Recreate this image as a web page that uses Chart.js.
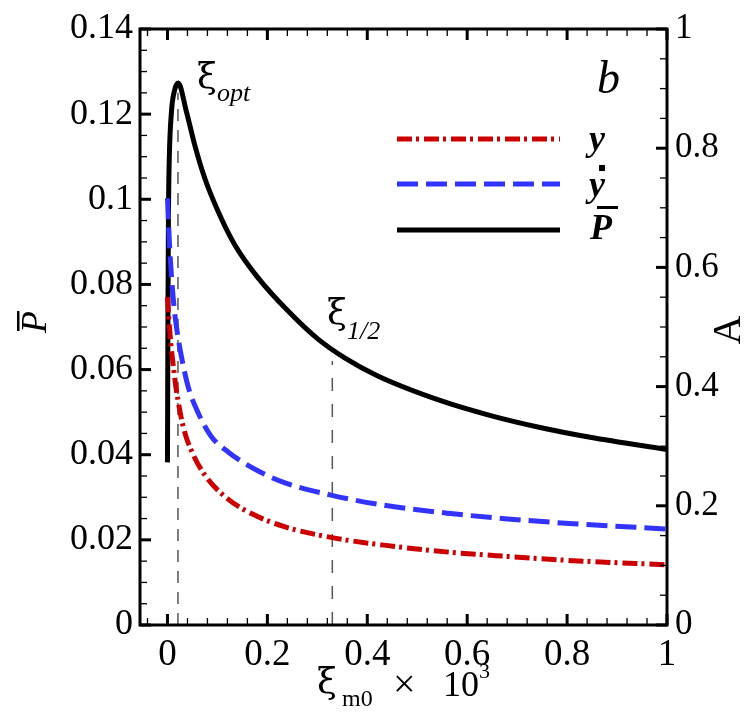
<!DOCTYPE html>
<html>
<head>
<meta charset="utf-8">
<script src="https://cdn.jsdelivr.net/npm/chart.js@4.4.0/dist/chart.umd.min.js"></script>
<style>
  html, body { margin: 0; padding: 0; background: #fff; }
  #wrap { width: 746px; height: 721px; }
</style>
</head>
<body>
<div id="wrap"><canvas id="chart"></canvas></div>
<script>
// tick values / labels
const xTicks = [0, 0.2, 0.4, 0.6, 0.8, 1];
const xTickLabels = ['0', '0.2', '0.4', '0.6', '0.8', '1'];
const pTicks = [0, 0.02, 0.04, 0.06, 0.08, 0.1, 0.12, 0.14];
const pTickLabels = ['0', '0.02', '0.04', '0.06', '0.08', '0.1', '0.12', '0.14'];
const aTicks = [0, 0.2, 0.4, 0.6, 0.8, 1];
const aTickLabels = ['0', '0.2', '0.4', '0.6', '0.8', '1'];

// P-bar (left axis)
const pBarX = [0, 0.001, 0.002, 0.0035, 0.008, 0.014, 0.0214, 0.0379, 0.0545, 0.0745, 0.1012, 0.1343, 0.181, 0.241, 0.3008, 0.3539, 0.421, 0.547, 0.647, 0.746, 0.846, 1.0];
const pBarY = [0.0382, 0.075, 0.097, 0.109, 0.1206, 0.1255, 0.1273, 0.1206, 0.1128, 0.105, 0.0972, 0.0894, 0.0816, 0.0738, 0.0672, 0.0628, 0.0585, 0.0527, 0.0492, 0.0464, 0.0441, 0.0412];

// y-dot (right axis)
const yDotX = [0, 0.004, 0.008, 0.013, 0.018, 0.028, 0.042, 0.062, 0.088, 0.122, 0.178, 0.234, 0.327, 0.433, 0.567, 0.681, 0.812, 1.0];
const yDotA = [0.716, 0.64, 0.585, 0.535, 0.5, 0.45, 0.398, 0.355, 0.316, 0.29, 0.26, 0.239, 0.218, 0.201, 0.187, 0.178, 0.17, 0.161];

// y (right axis)
const yX = [0, 0.003, 0.007, 0.012, 0.018, 0.032, 0.052, 0.078, 0.12, 0.168, 0.234, 0.327, 0.433, 0.567, 0.681, 0.812, 1.0];
const yA = [0.55, 0.51, 0.47, 0.432, 0.393, 0.331, 0.285, 0.248, 0.212, 0.187, 0.165, 0.147, 0.134, 0.122, 0.115, 0.108, 0.101];

// marker lines
const xiOpt = 0.021;
const xiOptTop = 0.125;
const xiHalf = 0.33;
const xiHalfTop = 0.062;

const RED = '#cc0000';
const BLUE = '#3333ff';
const SERIF = "'Liberation Serif', 'DejaVu Serif', serif";
const GREEK = "'DejaVu Serif', serif";

const toPoints = (xs, ys) => xs.map((x, i) => ({ x, y: ys[i] }));

// inward ticks, frame, annotations, legend
const decorPlugin = {
  id: 'decor',
  afterDraw(chart) {
    const { ctx, chartArea: a, scales } = chart;
    const sx = scales.x, sy = scales.y, sa = scales.y2;
    ctx.save();
    ctx.strokeStyle = '#000';

    const hTick = (px, len, w) => {
      ctx.lineWidth = w;
      ctx.beginPath();
      ctx.moveTo(px, a.bottom); ctx.lineTo(px, a.bottom - len);
      ctx.moveTo(px, a.top); ctx.lineTo(px, a.top + len);
      ctx.stroke();
    };
    for (let v = -0.04; v <= 1.0001; v += 0.04) {
      const major = Math.abs(v / 0.2 - Math.round(v / 0.2)) < 1e-6;
      hTick(sx.getPixelForValue(v), major ? 11 : 7, major ? 3 : 1.3);
    }
    for (let v = 0; v <= 0.14001; v += 0.005) {
      const major = Math.abs(v / 0.02 - Math.round(v / 0.02)) < 1e-6;
      const py = sy.getPixelForValue(v);
      ctx.lineWidth = major ? 3 : 1.3;
      ctx.beginPath();
      ctx.moveTo(a.left, py); ctx.lineTo(a.left + (major ? 11 : 7), py);
      ctx.stroke();
    }
    for (let v = 0; v <= 1.0001; v += 0.05) {
      const major = Math.abs(v / 0.2 - Math.round(v / 0.2)) < 1e-6;
      const py = sa.getPixelForValue(v);
      ctx.lineWidth = major ? 3 : 1.3;
      ctx.beginPath();
      ctx.moveTo(a.right, py); ctx.lineTo(a.right - (major ? 11 : 7), py);
      ctx.stroke();
    }

    // frame
    ctx.lineWidth = 3;
    ctx.strokeRect(a.left, a.top, a.right - a.left, a.bottom - a.top);

    ctx.fillStyle = '#000';
    ctx.textBaseline = 'alphabetic';
    ctx.textAlign = 'left';

    // xi_opt, xi_1/2
    ctx.font = `36px ${GREEK}`;
    ctx.fillText('ξ', 197, 88);
    ctx.font = `italic 26px ${SERIF}`;
    ctx.fillText('opt', 217, 101);
    ctx.font = `36px ${GREEK}`;
    ctx.fillText('ξ', 327, 324);
    ctx.font = `italic 26px ${SERIF}`;
    ctx.fillText('1/2', 347, 339);

    // panel letter
    ctx.font = `italic 46px ${SERIF}`;
    ctx.fillText('b', 597, 93);

    // legend
    const legend = [
      { color: RED, dash: [15, 4, 3, 5], y: 139 },
      { color: BLUE, dash: [21, 8], y: 184 },
      { color: '#000', dash: [], y: 230 },
    ];
    legend.forEach((l) => {
      ctx.strokeStyle = l.color;
      ctx.lineWidth = 5;
      ctx.setLineDash(l.dash);
      ctx.beginPath();
      ctx.moveTo(397, l.y); ctx.lineTo(560, l.y);
      ctx.stroke();
    });
    ctx.setLineDash([]);
    ctx.font = `italic bold 36px ${SERIF}`;
    ctx.fillText('y', 589, 150);
    ctx.fillText('y', 589, 196);
    ctx.fillRect(599, 165, 6, 6);
    ctx.fillText('P', 590, 239);
    ctx.fillRect(597, 206, 21, 3);

    // axis titles
    ctx.font = `36px ${GREEK}`;
    ctx.fillText('ξ', 317, 693);
    ctx.font = `24px ${SERIF}`;
    ctx.fillText('m0', 342, 706);
    ctx.font = `40px ${SERIF}`;
    ctx.fillText('×', 393, 697);
    ctx.font = `36px ${SERIF}`;
    ctx.fillText('10', 443, 696);
    ctx.font = `22px ${SERIF}`;
    ctx.fillText('3', 479, 678);

    ctx.save();
    ctx.translate(46, 322);
    ctx.rotate(-Math.PI / 2);
    ctx.textAlign = 'center';
    ctx.font = `italic 36px ${SERIF}`;
    ctx.fillText('P', 0, 0);
    ctx.fillRect(-9, -29, 20, 2.5);
    ctx.restore();

    ctx.save();
    ctx.translate(740, 330);
    ctx.rotate(-Math.PI / 2);
    ctx.textAlign = 'center';
    ctx.font = `40px ${SERIF}`;
    ctx.fillText('A', 0, 0);
    ctx.restore();

    ctx.restore();
  },
};

const ctx = document.getElementById('chart').getContext('2d');
const lineBase = { showLine: true, pointRadius: 0, borderWidth: 5, fill: false, cubicInterpolationMode: 'monotone' };

new Chart(ctx, {
  type: 'scatter',
  data: {
    datasets: [
      {
        ...lineBase,
        label: 'y',
        data: toPoints(yX, yA),
        yAxisID: 'y2',
        borderColor: RED,
        borderDash: [15, 4, 3, 5],
      },
      {
        ...lineBase,
        label: 'y-dot',
        data: toPoints(yDotX, yDotA),
        yAxisID: 'y2',
        borderColor: BLUE,
        borderDash: [21, 8],
      },
      {
        ...lineBase,
        label: 'P',
        data: toPoints(pBarX, pBarY),
        yAxisID: 'y',
        borderColor: '#000',
      },
      {
        label: 'xi_opt',
        data: [{ x: xiOpt, y: 0 }, { x: xiOpt, y: xiOptTop }],
        yAxisID: 'y',
        showLine: true,
        pointRadius: 0,
        borderWidth: 1.5,
        borderColor: '#555',
        borderDash: [12, 9],
      },
      {
        label: 'xi_half',
        data: [{ x: xiHalf, y: 0 }, { x: xiHalf, y: xiHalfTop }],
        yAxisID: 'y',
        showLine: true,
        pointRadius: 0,
        borderWidth: 1.5,
        borderColor: '#555',
        borderDash: [13, 13],
      },
    ],
  },
  options: {
    responsive: true,
    maintainAspectRatio: false,
    animation: false,
    layout: { padding: { top: 26, left: 0, right: 0, bottom: 0 } },
    plugins: { legend: { display: false }, tooltip: { enabled: false } },
    scales: {
      x: {
        type: 'linear',
        min: -0.055,
        max: 1,
        afterBuildTicks: (scale) => { scale.ticks = xTicks.map((value) => ({ value })); },
        afterFit: (scale) => { scale.height = 96; },
        ticks: {
          callback: (value, index) => xTickLabels[index],
          color: '#000',
          font: { family: SERIF, size: 37 },
          padding: 8,
          maxRotation: 0,
        },
        grid: { display: false, drawTicks: false },
        border: { display: false },
      },
      y: {
        type: 'linear',
        position: 'left',
        min: 0,
        max: 0.14,
        afterBuildTicks: (scale) => { scale.ticks = pTicks.map((value) => ({ value })); },
        afterFit: (scale) => { scale.width = 140; },
        ticks: {
          callback: (value, index) => pTickLabels[index],
          color: '#000',
          font: { family: SERIF, size: 36 },
          padding: 7,
        },
        grid: { display: false, drawTicks: false },
        border: { display: false },
      },
      y2: {
        type: 'linear',
        position: 'right',
        min: 0,
        max: 1,
        afterBuildTicks: (scale) => { scale.ticks = aTicks.map((value) => ({ value })); },
        afterFit: (scale) => { scale.width = 79; },
        ticks: {
          callback: (value, index) => aTickLabels[index],
          color: '#000',
          font: { family: SERIF, size: 35 },
          padding: 8,
        },
        grid: { display: false, drawTicks: false },
        border: { display: false },
      },
    },
  },
  plugins: [decorPlugin],
});
</script>
</body>
</html>
